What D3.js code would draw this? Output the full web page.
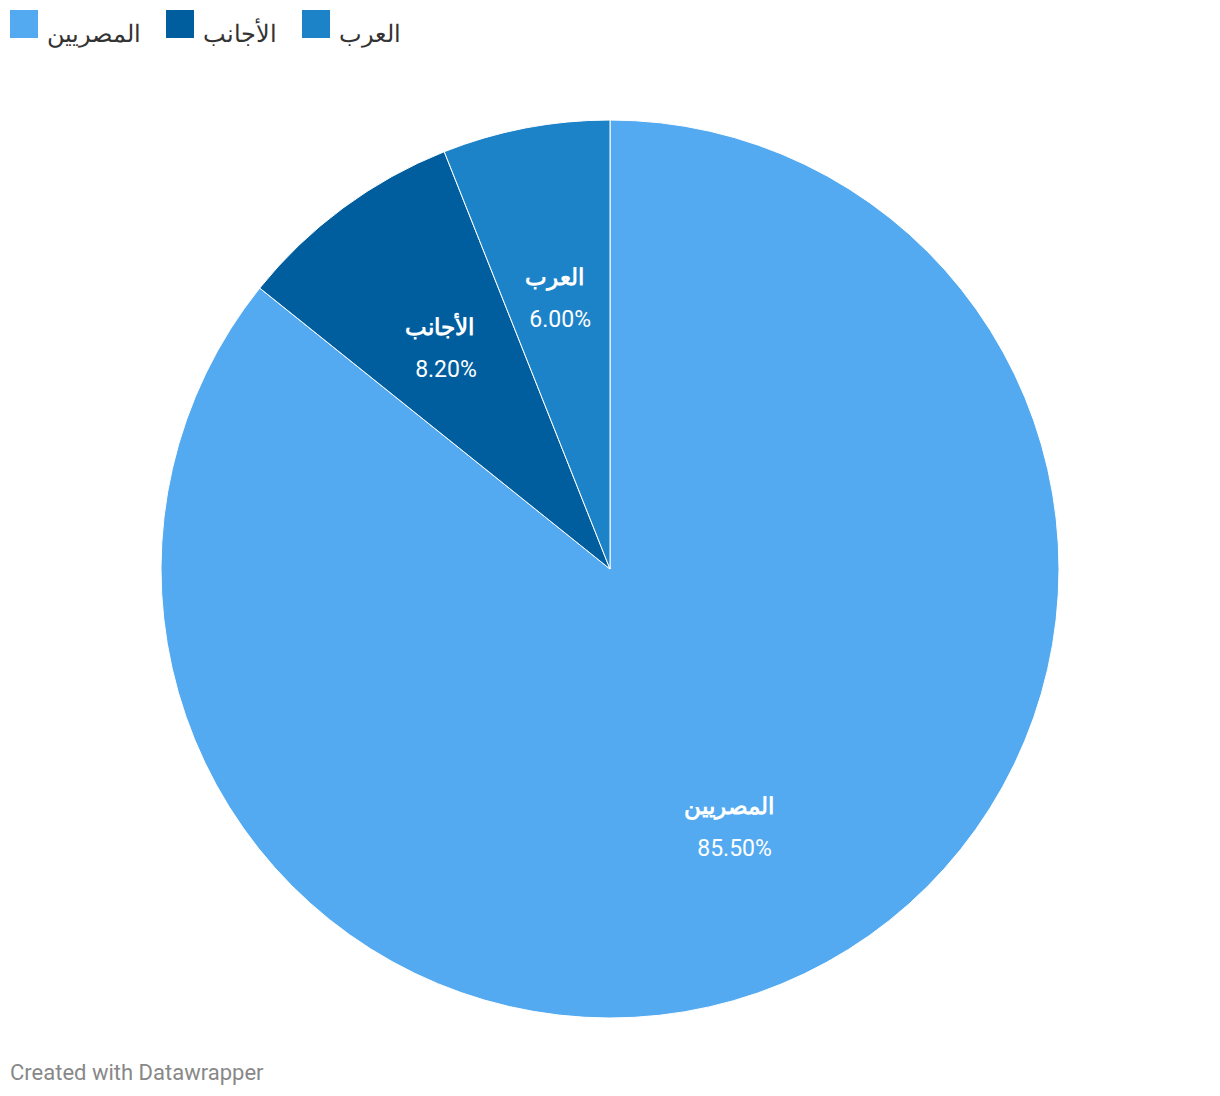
<!DOCTYPE html>
<html><head><meta charset="utf-8">
<script src="https://cdn.jsdelivr.net/npm/d3@7"></script>
<style>
html,body{margin:0;padding:0;background:#fff;}
text{font-family:Roboto,"Noto Sans",sans-serif;}
</style></head>
<body>
<svg id="chart" width="1220" height="1096"></svg>
<script>
const categories = ["المصريين", "الأجانب", "العرب"];
const values = [85.5, 8.2, 6.0];
const valueLabels = ["85.50%", "8.20%", "6.00%"];
const colors = ["#54aaf0", "#015e9e", "#1c83c8"];
const footer = "Created with Datawrapper";

const svg = d3.select("#chart");
const cx = 610, cy = 569, R = 449;

const data = categories.map((c, i) => ({cat: c, val: values[i], lab: valueLabels[i], col: colors[i]}));
const pie = d3.pie().sort(null).value(d => d.val);
const arcs = pie(data);
const arc = d3.arc().innerRadius(0).outerRadius(R);
const labelArc = d3.arc().innerRadius(281).outerRadius(281);

const g = svg.append("g").attr("transform", `translate(${cx},${cy})`);
g.selectAll("path").data(arcs).join("path")
  .attr("d", arc)
  .attr("fill", d => d.data.col)
  .attr("stroke", "#fff")
  .attr("stroke-width", 1);

const lg = g.selectAll("g.lab").data(arcs).join("g").attr("class", "lab")
  .attr("transform", d => { const [x, y] = labelArc.centroid(d); return `translate(${x},${y})`; });
lg.append("text")
  .attr("text-anchor", "middle")
  .attr("x", -3)
  .attr("y", -8)
  .attr("fill", "#fff")
  .attr("font-weight", "bold")
  .attr("font-size", 23)
  .text(d => d.data.cat);
lg.append("text")
  .attr("text-anchor", "middle")
  .attr("x", 3)
  .attr("y", 34)
  .attr("fill", "#fff")
  .attr("font-size", 23)
  .text(d => d.data.lab);

// legend
const legend = svg.append("g");
let x = 10;
data.forEach(d => {
  legend.append("rect").attr("x", x).attr("y", 10).attr("width", 28).attr("height", 28).attr("fill", d.col);
  const t = legend.append("text").attr("x", x + 37).attr("y", 42)
    .attr("font-size", 23.5).attr("fill", "#333").text(d.cat);
  const w = t.node().getComputedTextLength();
  x = x + 37 + w + 25;
});

svg.append("text").attr("x", 10).attr("y", 1080)
  .attr("font-size", 22).attr("fill", "#888").text(footer);
</script>
</body></html>
